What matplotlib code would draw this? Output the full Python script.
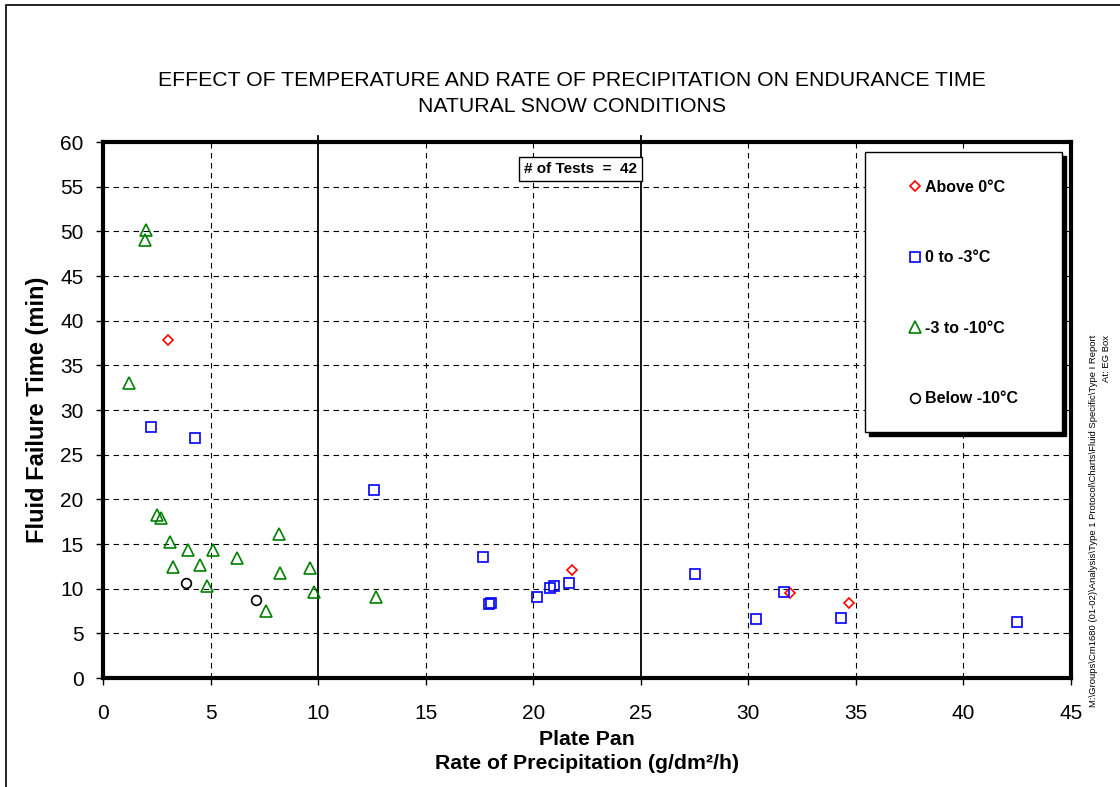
import matplotlib
matplotlib.use("Agg")
import matplotlib.pyplot as plt
from matplotlib.patches import Rectangle
from matplotlib.lines import Line2D
from matplotlib import font_manager

# ---------------- data ----------------
above0_x = [3.0, 21.78, 31.92, 34.70]
above0_y = [37.85, 12.13, 9.5, 8.44]

zero_to_m3_x = [2.22, 4.26, 12.6, 17.67, 18.03, 17.93, 20.17, 20.79, 20.98, 21.67,
                27.5, 30.36, 31.64, 34.3, 42.48]
zero_to_m3_y = [28.1, 26.85, 21.1, 13.6, 8.43, 8.25, 9.07, 10.1, 10.27, 10.6,
                11.65, 6.6, 9.6, 6.76, 6.23]

m3_to_m10_x = [2.0, 1.97, 1.22, 2.5, 2.68, 8.19, 3.1, 3.95, 5.13, 6.22, 3.24,
               4.53, 8.22, 9.64, 4.84, 9.81, 12.7, 7.6]
m3_to_m10_y = [50.1, 49.0, 33.0, 18.3, 17.9, 16.1, 15.2, 14.3, 14.3, 13.4, 12.4,
               12.65, 11.8, 12.35, 10.3, 9.6, 9.07, 7.5]

below_m10_x = [3.87, 7.13]
below_m10_y = [10.67, 8.73]

series_labels = ["Above 0\u00b0C", "0 to -3\u00b0C", "-3 to -10\u00b0C", "Below -10\u00b0C"]
x_ticks = list(range(0, 50, 5))
y_ticks = list(range(0, 65, 5))
solid_x_lines = [10, 25]
n_tests = 42

title_lines = ["EFFECT OF TEMPERATURE AND RATE OF PRECIPITATION ON ENDURANCE TIME",
               "NATURAL SNOW CONDITIONS"]
x_label = "Plate Pan\nRate of Precipitation (g/dm\u00b2/h)"
y_label = "Fluid Failure Time (min)"
side_note = ("M:\\Groups\\Cm1680 (01-02)\\Analysis\\Type 1 Protocol\\Charts\\Fluid Specific\\Type I Report\n"
             "At: EG Box")

# ---------------- fonts ----------------
avail = {f.name for f in font_manager.fontManager.ttflist}
base_font = "Liberation Sans" if "Liberation Sans" in avail else "DejaVu Sans"
plt.rcParams["font.family"] = [base_font, "DejaVu Sans"]

W, H = 1120, 787
fig = plt.figure(figsize=(W / 100, H / 100), dpi=100)
fig.patch.set_facecolor("white")

def fx(px):
    return px / W

def fy(py):
    return 1 - py / H

ax_l, ax_r, ax_t, ax_b = 103, 1071, 142, 678
ax = fig.add_axes([fx(ax_l), fy(ax_b), fx(ax_r - ax_l), (ax_b - ax_t) / H])

def axx(px):
    return (px - ax_l) / (ax_r - ax_l)

def axy(py):
    return (ax_b - py) / (ax_b - ax_t)

ax.set_xlim(0, 45)
ax.set_ylim(0, 60)
ax.set_xticks(x_ticks)
ax.set_yticks(y_ticks)
ax.tick_params(axis="both", direction="out", length=5, width=1, labelsize=15,
               colors="black")
ax.tick_params(axis="x", pad=14)
ax.tick_params(axis="y", pad=9)

for s in ax.spines.values():
    s.set_linewidth(3.0)
    s.set_color("black")

# grid lines
dash = (0, (5, 4))
for yv in y_ticks[1:-1]:
    ax.axhline(yv, color="black", lw=0.8, ls=dash, zorder=1)
for xv in x_ticks[1:-1]:
    if xv in solid_x_lines:
        ax.plot([xv, xv], [0, 1.012], color="black", lw=1.3, zorder=1,
                transform=ax.get_xaxis_transform(), clip_on=False)
    else:
        ax.axvline(xv, color="black", lw=0.8, ls=dash, zorder=1)

mk = dict(ls="none", mfc="none", mew=1.2, zorder=5, clip_on=False)
ax.plot(above0_x, above0_y, marker="D", ms=5.5, mec="#ff0000", **mk)
ax.plot(zero_to_m3_x, zero_to_m3_y, marker="s", ms=7.5, mec="#0000ff", **mk)
ax.plot(m3_to_m10_x, m3_to_m10_y, marker="^", ms=8, mec="#008000", **mk)
ax.plot(below_m10_x, below_m10_y, marker="o", ms=7, mec="black", **mk)

# labels
ax.set_ylabel(y_label, fontsize=17, fontweight="bold")
ax.yaxis.set_label_coords(axx(49), 0.5)
ax.set_xlabel(x_label, fontsize=15.3, fontweight="bold", linespacing=1.35)
ax.xaxis.set_label_coords(0.5, axy(730))

# title
fig.text(fx(572), fy(80), title_lines[0], ha="center", va="center", fontsize=15.3)
fig.text(fx(572), fy(106), title_lines[1], ha="center", va="center", fontsize=15.3)

# tests box
ax.text(axx(637), axy(169), f"# of Tests  =  {n_tests}", transform=ax.transAxes,
        ha="right", va="center", fontsize=11, fontweight="bold", zorder=6,
        bbox=dict(boxstyle="square,pad=0.35", fc="white", ec="black", lw=1.0))

# legend box with shadow
lg_l, lg_t, lg_r, lg_b = 865, 152, 1062, 432
sh = 4
fig.patches.append(Rectangle((fx(lg_l + sh), fy(lg_b + sh)), fx(lg_r - lg_l), (lg_b - lg_t) / H,
                             transform=fig.transFigure, fc="black", ec="black", zorder=3))
fig.patches.append(Rectangle((fx(lg_l), fy(lg_b)), fx(lg_r - lg_l), (lg_b - lg_t) / H,
                             transform=fig.transFigure, fc="white", ec="black", lw=1.0, zorder=3))

handles = [
    Line2D([], [], ls="none", marker="D", ms=5.5, mfc="none", mec="#ff0000", mew=1.2),
    Line2D([], [], ls="none", marker="s", ms=7.5, mfc="none", mec="#0000ff", mew=1.2),
    Line2D([], [], ls="none", marker="^", ms=8, mfc="none", mec="#008000", mew=1.2),
    Line2D([], [], ls="none", marker="o", ms=7, mfc="none", mec="black", mew=1.2),
]
leg = fig.legend(handles, series_labels, loc="upper left",
                 bbox_to_anchor=(fx(909), fy(180)), bbox_transform=fig.transFigure,
                 frameon=False, borderpad=0, borderaxespad=0, handlelength=0.8,
                 handletextpad=0.2, labelspacing=3.47,
                 prop=dict(weight="bold", size=11.5))
leg.set_zorder(10)

# side note
fig.text(fx(1100), fy(335), side_note, rotation=90, ha="center", va="top",
         multialignment="right", fontsize=6.8, linespacing=1.5)

# figure border
fig.patches.append(Rectangle((fx(6), -0.05), 1.2, 1.05 - 5 / H, transform=fig.transFigure,
                             fill=False, ec="black", lw=1.2, zorder=0))

fig.savefig("out.png", dpi=100)
